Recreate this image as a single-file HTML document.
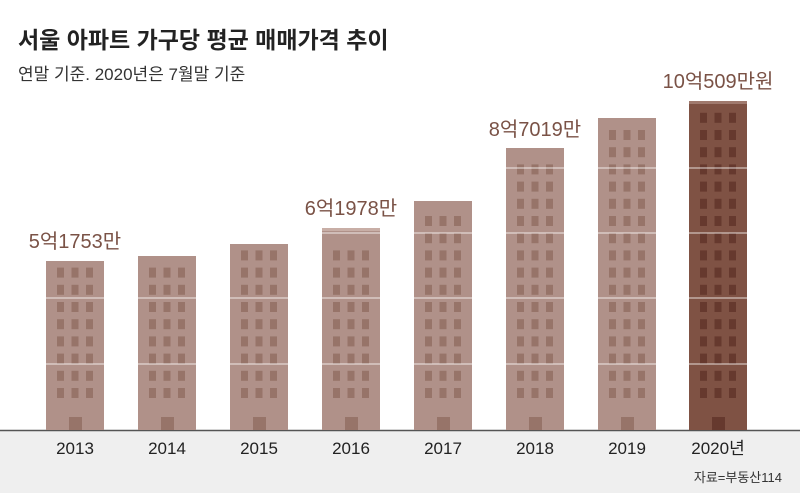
<!DOCTYPE html>
<html><head><meta charset="utf-8"><style>
body{margin:0;background:#fff;}
svg text{font-family:"Liberation Sans","Noto Sans CJK KR",sans-serif;}
</style></head><body>
<svg width="800" height="493" xmlns="http://www.w3.org/2000/svg">
<rect x="0" y="430" width="800" height="63" fill="#efefef"/>
<line x1="0" y1="430.5" x2="800" y2="430.5" stroke="#555" stroke-width="1.5"/>
<text x="18" y="48" font-size="23" font-weight="bold" fill="#222">서울 아파트 가구당 평균 매매가격  추이</text>
<text x="18" y="80" font-size="17" fill="#333">연말 기준. 2020년은 7월말 기준</text>
<g id="bars"></g>
<g font-size="20" fill="#7a5246">
<text x="75" y="248" text-anchor="middle">5억1753만</text>
<text x="351" y="215" text-anchor="middle">6억1978만</text>
<text x="535" y="136" text-anchor="middle">8억7019만</text>
<text x="718" y="88" text-anchor="middle">10억509만원</text>
</g>
<g font-size="17" fill="#222" text-anchor="middle">
<text x="75" y="454">2013</text><text x="167" y="454">2014</text><text x="259" y="454">2015</text>
<text x="351" y="454">2016</text><text x="443" y="454">2017</text><text x="535" y="454">2018</text>
<text x="627" y="454">2019</text><text x="718" y="454">2020년</text>
</g>
<text x="782" y="482" font-size="13" fill="#333" text-anchor="end">자료=부동산114</text>
</svg>
<script>
var tops=[261,256,244,228,201,148,118,101],cx=[75,167,259,351,443,535,627,718];
var g=document.getElementById('bars'),s='';
for(var i=0;i<8;i++){
 var last=i==7,bc=last?'#7f5244':'#b09189',wc=last?'#66392e':'#977469',x=cx[i]-29,t=tops[i];
 s+='<rect x="'+x+'" y="'+t+'" width="58" height="'+(430-t)+'" fill="'+bc+'"/>';
 if(last||i==3)s+='<rect x="'+x+'" y="'+t+'" width="58" height="3" fill="'+(last?'#a07a6e':'#c8aea6')+'"/>';
 for(var y=388;y>=t+6;y-=17.2){for(var k=0;k<3;k++)s+='<rect x="'+(x+11+k*14.5)+'" y="'+y.toFixed(1)+'" width="7" height="10" fill="'+wc+'"/>';}
 s+='<rect x="'+(cx[i]-6)+'" y="417" width="13" height="13" fill="'+wc+'"/>';
}
[364,298,233,168].forEach(function(y){s+='<line x1="0" x2="800" y1="'+y+'" y2="'+y+'" stroke="#fff" stroke-width="1" opacity="0.8"/>';});
g.innerHTML=s;
</script>
</body></html>
